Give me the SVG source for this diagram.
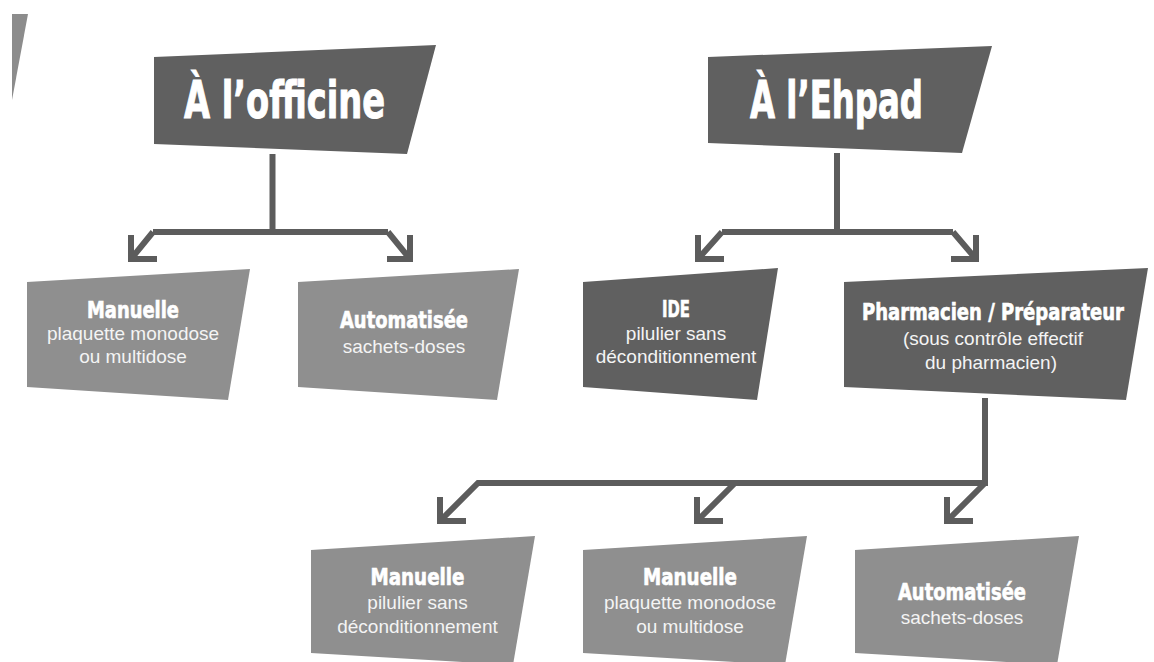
<svg xmlns="http://www.w3.org/2000/svg" width="1154" height="662" viewBox="0 0 1154 662">
  <style>
    .dark { fill: #606060; }
    .light { fill: #8f8f8f; }
    .title { font-family: "Liberation Sans Narrow", "DejaVu Sans Condensed", "Liberation Sans", sans-serif; font-weight: bold; font-size: 52px; fill: #ffffff; stroke: #ffffff; stroke-width: 1; text-anchor: middle; }
    .head { font-family: "Liberation Sans Narrow", "DejaVu Sans Condensed", "Liberation Sans", sans-serif; font-weight: bold; font-size: 23px; fill: #ffffff; stroke: #ffffff; stroke-width: 0.6; text-anchor: middle; }
    .sub { font-family: "Liberation Sans", Arial, sans-serif; font-size: 19px; fill: #f4f4f4; text-anchor: middle; }
    .conn { fill: none; stroke: #5c5c5c; stroke-width: 6; stroke-linejoin: miter; stroke-linecap: butt; }
  </style>
  <rect width="1154" height="662" fill="#ffffff"/>

  <polygon id="corner-shape" points="12,14 28,14 12,100" fill="#8c8c8c"/>

  <g id="connectors">
    <path class="conn" d="M272.5,154 V232 M153,232 H388 M153,232 L131,259 M388,232 L410,259"/>
    <path class="conn" d="M131,235 V259 H157 M410,235 V259 H387"/>
    <path class="conn" d="M837,153 V232 M722,232 H953 M722,232 L698,259 M953,232 L976,259"/>
    <path class="conn" d="M698,235 V259 H724 M976,235 V259 H951"/>
    <path class="conn" d="M985,398 V483 H478 L440,521 M735,483 L697,521 M985,483 L947,521"/>
    <path class="conn" d="M440,497 V521 H466 M697,497 V521 H723 M947,497 V521 H973"/>
  </g>

  <g id="node-officine">
    <polygon class="dark" points="154,57 436,45 407,154 154,144"/>
    <text class="title" x="284.5" y="118" textLength="201" lengthAdjust="spacingAndGlyphs">À l’officine</text>
  </g>

  <g id="node-ehpad">
    <polygon class="dark" points="708,57 992,46 962,153 708,143"/>
    <text class="title" x="836.5" y="118" textLength="173" lengthAdjust="spacingAndGlyphs">À l’Ehpad</text>
  </g>

  <g id="node-officine-manuelle">
    <polygon class="light" points="27,282 250,269 228,400 27,387"/>
    <text class="head" x="133" y="318" textLength="92" lengthAdjust="spacingAndGlyphs">Manuelle</text>
    <text class="sub" x="133" y="340">plaquette monodose</text>
    <text class="sub" x="133" y="363">ou multidose</text>
  </g>

  <g id="node-officine-automatisee">
    <polygon class="light" points="298,282 519,269 497,400 298,387"/>
    <text class="head" x="404" y="328" textLength="128" lengthAdjust="spacingAndGlyphs">Automatisée</text>
    <text class="sub" x="404" y="353">sachets-doses</text>
  </g>

  <g id="node-ide">
    <polygon class="dark" points="583,282 778,268 757,400 583,387"/>
    <text class="head" x="676" y="317" textLength="28" lengthAdjust="spacingAndGlyphs">IDE</text>
    <text class="sub" x="676" y="340">pilulier sans</text>
    <text class="sub" x="676" y="363">déconditionnement</text>
  </g>

  <g id="node-pharmacien">
    <polygon class="dark" points="844,282 1148,268 1126,400 844,387"/>
    <text class="head" x="993" y="320" font-size="21" textLength="262" lengthAdjust="spacingAndGlyphs">Pharmacien / Préparateur</text>
    <text class="sub" x="993" y="345">(sous contrôle effectif</text>
    <text class="sub" x="991" y="369">du pharmacien)</text>
  </g>

  <g id="node-ehpad-manuelle-pilulier">
    <polygon class="light" points="311,550 535,536 513,665 311,653"/>
    <text class="head" x="417.5" y="585" textLength="94" lengthAdjust="spacingAndGlyphs">Manuelle</text>
    <text class="sub" x="417.5" y="609">pilulier sans</text>
    <text class="sub" x="417.5" y="633">déconditionnement</text>
  </g>

  <g id="node-ehpad-manuelle-plaquette">
    <polygon class="light" points="583,550 807,536 785,665 583,653"/>
    <text class="head" x="690" y="585" textLength="94" lengthAdjust="spacingAndGlyphs">Manuelle</text>
    <text class="sub" x="690" y="609">plaquette monodose</text>
    <text class="sub" x="690" y="633">ou multidose</text>
  </g>

  <g id="node-ehpad-automatisee">
    <polygon class="light" points="855,550 1079,536 1057,665 855,653"/>
    <text class="head" x="962" y="600" textLength="128" lengthAdjust="spacingAndGlyphs">Automatisée</text>
    <text class="sub" x="962" y="624">sachets-doses</text>
  </g>
</svg>
